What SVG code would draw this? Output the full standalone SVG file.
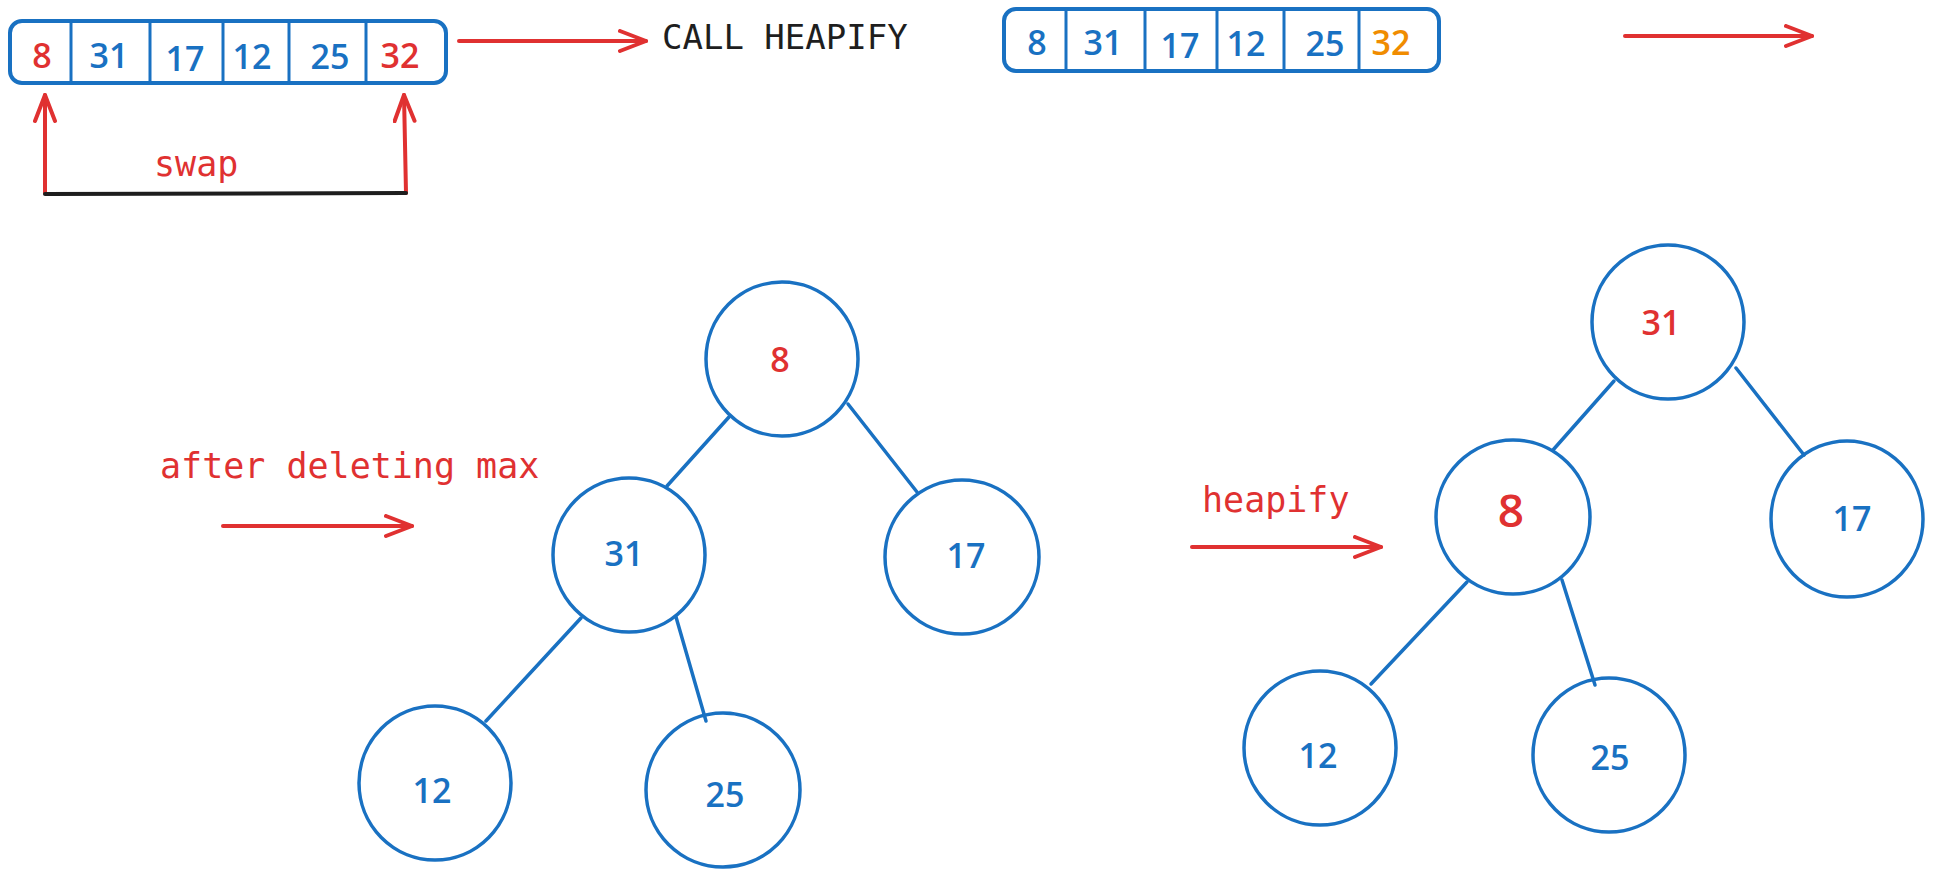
<svg xmlns="http://www.w3.org/2000/svg" width="1933" height="876" viewBox="0 0 1933 876">
<style>
.bg{fill:#ffffff}
.box{fill:none;stroke:#1971c2;stroke-width:4}
.div{stroke:#1971c2;stroke-width:3}
.node{fill:none;stroke:#1971c2;stroke-width:3.5}
.edge{stroke:#1971c2;stroke-width:3.5;stroke-linecap:round}
.arr{fill:none;stroke:#e03131;stroke-width:4;stroke-linecap:round;stroke-linejoin:round}
.num{font-family:"Open Sans","Noto Sans","Liberation Sans",sans-serif;font-weight:600;font-size:34px;text-anchor:middle}
.tnum{font-family:"Open Sans","Noto Sans","Liberation Sans",sans-serif;font-weight:600;font-size:34px;text-anchor:middle}
.mono{font-family:"DejaVu Sans Mono","Liberation Mono",monospace;font-size:35px}
.blue{fill:#1971c2}
.red{fill:#e03131}
.orange{fill:#f08c00}
.dark{fill:#1e1e1e}
</style>
<defs>
<marker id="ah" markerUnits="userSpaceOnUse" markerWidth="40" markerHeight="30" refX="28" refY="12" orient="auto" viewBox="0 0 40 30">
<path d="M2,2 L28,12 L2,22" fill="none" stroke="#e03131" stroke-width="4" stroke-linecap="round" stroke-linejoin="round"/>
</marker>
</defs>
<rect class="bg" x="0" y="0" width="1933" height="876"/>

<g id="array1">
<rect class="box" x="10" y="21" width="436" height="62" rx="12"/>
<line class="div" x1="71" y1="21" x2="71" y2="83"/>
<line class="div" x1="150" y1="21" x2="150" y2="83"/>
<line class="div" x1="223" y1="21" x2="223" y2="83"/>
<line class="div" x1="289" y1="21" x2="289" y2="83"/>
<line class="div" x1="366" y1="21" x2="366" y2="83"/>
<text class="num red" x="42" y="68">8</text>
<text class="num blue" x="109" y="68">31</text>
<text class="num blue" x="185" y="71">17</text>
<text class="num blue" x="252" y="69">12</text>
<text class="num blue" x="330" y="69">25</text>
<text class="num red" x="400" y="68">32</text>
</g>

<g id="label-call-heapify">
<text class="mono dark" x="662" y="49" style="font-size:34px">CALL HEAPIFY</text>
</g>

<g id="array2">
<rect class="box" x="1004" y="9" width="435" height="62" rx="12"/>
<line class="div" x1="1066" y1="9" x2="1066" y2="71"/>
<line class="div" x1="1145" y1="9" x2="1145" y2="71"/>
<line class="div" x1="1217" y1="9" x2="1217" y2="71"/>
<line class="div" x1="1284" y1="9" x2="1284" y2="71"/>
<line class="div" x1="1359" y1="9" x2="1359" y2="71"/>
<text class="num blue" x="1037" y="55">8</text>
<text class="num blue" x="1103" y="55">31</text>
<text class="num blue" x="1180" y="58">17</text>
<text class="num blue" x="1246" y="56">12</text>
<text class="num blue" x="1325" y="56">25</text>
<text class="num orange" x="1391" y="55">32</text>
</g>

<g id="label-swap">
<text class="mono red" x="154" y="176">swap</text>
</g>
<g id="label-after">
<text class="mono red" x="160" y="478">after deleting max</text>
</g>
<g id="label-heapify">
<text class="mono red" x="1202" y="512">heapify</text>
</g>

<g id="connectors">
<path class="arr" d="M459,41 L646,41" marker-end="url(#ah)"/>
<path class="arr" d="M1625,36 L1812,36" marker-end="url(#ah)"/>
<path class="arr" d="M223,526 L412,526" marker-end="url(#ah)"/>
<path class="arr" d="M1192,547 L1381,547" marker-end="url(#ah)"/>
<path class="arr" d="M45,193 L45,95" marker-end="url(#ah)"/>
<path class="arr" d="M406,193 L404,95" marker-end="url(#ah)"/>
<line x1="45" y1="194" x2="406" y2="193" stroke="#1e1e1e" stroke-width="4" stroke-linecap="round"/>
<line class="edge" x1="729" y1="417" x2="667" y2="486"/>
<line class="edge" x1="848" y1="404" x2="917" y2="492"/>
<line class="edge" x1="581" y1="618" x2="486" y2="721"/>
<line class="edge" x1="676" y1="617" x2="706" y2="721"/>
<line class="edge" x1="1614" y1="381" x2="1553" y2="450"/>
<line class="edge" x1="1736" y1="368" x2="1804" y2="455"/>
<line class="edge" x1="1467" y1="582" x2="1371" y2="684"/>
<line class="edge" x1="1562" y1="580" x2="1595" y2="685"/>
</g>

<g id="t1-root-8">
<ellipse class="node" cx="782" cy="359" rx="76" ry="77"/>
<text class="tnum red" x="780" y="372">8</text>
</g>
<g id="t1-31">
<ellipse class="node" cx="629" cy="555" rx="76" ry="77"/>
<text class="tnum blue" x="624" y="566">31</text>
</g>
<g id="t1-17">
<ellipse class="node" cx="962" cy="557" rx="77" ry="77"/>
<text class="tnum blue" x="966" y="568">17</text>
</g>
<g id="t1-12">
<ellipse class="node" cx="435" cy="783" rx="76" ry="77"/>
<text class="tnum blue" x="432" y="803">12</text>
</g>
<g id="t1-25">
<ellipse class="node" cx="723" cy="790" rx="77" ry="77"/>
<text class="tnum blue" x="725" y="807">25</text>
</g>

<g id="t2-root-31">
<ellipse class="node" cx="1668" cy="322" rx="76" ry="77"/>
<text class="tnum red" x="1661" y="335">31</text>
</g>
<g id="t2-8">
<ellipse class="node" cx="1513" cy="517" rx="77" ry="77"/>
<text class="tnum red" x="1511" y="527" style="font-size:46px">8</text>
</g>
<g id="t2-17">
<ellipse class="node" cx="1847" cy="519" rx="76" ry="78"/>
<text class="tnum blue" x="1852" y="531">17</text>
</g>
<g id="t2-12">
<ellipse class="node" cx="1320" cy="748" rx="76" ry="77"/>
<text class="tnum blue" x="1318" y="768">12</text>
</g>
<g id="t2-25">
<ellipse class="node" cx="1609" cy="755" rx="76" ry="77"/>
<text class="tnum blue" x="1610" y="770">25</text>
</g>
</svg>
